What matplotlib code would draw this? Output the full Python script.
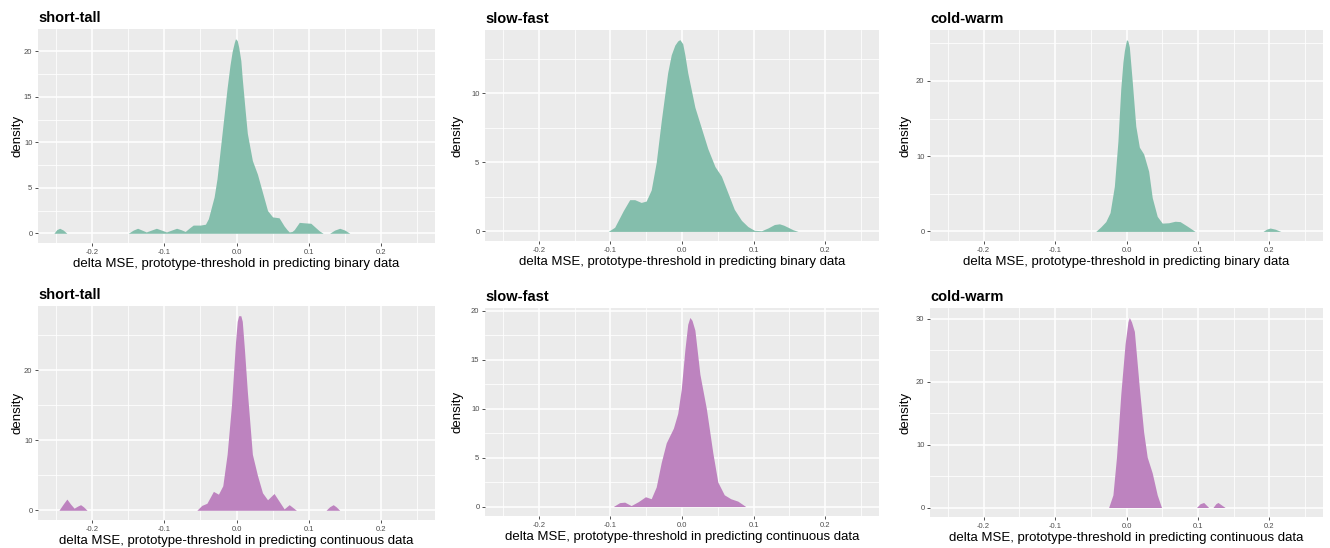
import numpy as np
import matplotlib
matplotlib.use('Agg')
from matplotlib import pyplot as plt
from matplotlib.ticker import MultipleLocator, FixedLocator

plt.rcParams['font.family'] = ['Liberation Sans', 'DejaVu Sans']

# density curves (x = delta MSE, y = density)
st_bin_x = [-0.253, -0.249, -0.245, -0.240, -0.235, -0.150, -0.143, -0.137, -0.131, -0.125,
            -0.118, -0.111, -0.104, -0.097, -0.090, -0.083, -0.077, -0.071,
            -0.065, -0.060, -0.050, -0.043, -0.039, -0.036, -0.031, -0.027, -0.020, -0.013,
            -0.009, -0.006, -0.003, -0.0014, 0.001, 0.003, 0.006,
            0.008, 0.012, 0.015, 0.022, 0.029, 0.036, 0.043, 0.050, 0.059, 0.066, 0.070, 0.073,
            0.077, 0.080, 0.087, 0.094, 0.103, 0.110, 0.115, 0.120, 0.129, 0.136, 0.143, 0.150, 0.157]
st_bin_y = [0.0, 0.4, 0.55, 0.35, 0.0, 0.0, 0.35, 0.55, 0.35, 0.15,
            0.35, 0.55, 0.35, 0.15, 0.35, 0.55, 0.4, 0.2,
            0.6, 0.9, 0.9, 1.0, 1.6, 2.5, 4.0, 6.0, 11.0, 16.0,
            18.5, 20.0, 21.0, 21.4, 21.2, 20.5, 19.0,
            17.0, 13.5, 11.0, 8.0, 6.5, 4.5, 2.5, 1.8, 1.7, 0.8, 0.4, 0.15,
            0.2, 0.4, 1.2, 1.15, 1.1, 0.6, 0.25, 0.0, 0.0, 0.35, 0.55, 0.35, 0.0]

sf_bin_x = [-0.103, -0.094, -0.082, -0.073, -0.066, -0.057, -0.050, -0.043, -0.036, -0.029,
            -0.020, -0.015, -0.010, -0.006, -0.003, 0.001, 0.004, 0.008, 0.018, 0.027, 0.036, 0.046, 0.055,
            0.064, 0.073, 0.083, 0.092, 0.101, 0.111, 0.120, 0.129, 0.136, 0.142, 0.148, 0.155, 0.162]
sf_bin_y = [0.0, 0.3, 1.5, 2.3, 2.3, 2.1, 2.2, 3.0, 5.0, 8.0,
            11.5, 12.8, 13.5, 13.8, 13.9, 13.6, 12.8, 11.5, 9.0, 7.5, 6.0, 4.7, 4.0,
            2.8, 1.6, 0.8, 0.35, 0.08, 0.05, 0.25, 0.5, 0.55, 0.45, 0.3, 0.12, 0.0]

cw_bin_x = [-0.043, -0.036, -0.029, -0.023, -0.017, -0.012, -0.008, -0.005, -0.003, 0.0, 0.002,
            0.004, 0.008, 0.013, 0.018, 0.024, 0.031, 0.036, 0.043, 0.050, 0.059, 0.068,
            0.075, 0.085, 0.096, 0.191, 0.196, 0.201, 0.208, 0.216]
cw_bin_y = [0.0, 0.6, 1.3, 2.5, 6.0, 12.0, 19.0, 22.5, 24.0, 25.5, 25.3,
            24.5, 20.0, 14.0, 11.2, 10.3, 8.0, 4.5, 2.0, 1.1, 1.15, 1.35,
            1.3, 0.7, 0.0, 0.0, 0.3, 0.45, 0.3, 0.0]

st_con_x = [-0.246, -0.240, -0.235, -0.230, -0.225, -0.220, -0.216, -0.212, -0.207,
            -0.055, -0.048, -0.041, -0.032, -0.025,
            -0.019, -0.013, -0.007, -0.0014, 0.001, 0.003, 0.006, 0.008, 0.011, 0.015, 0.022, 0.029, 0.036,
            0.043, 0.048, 0.052, 0.059, 0.066, 0.073, 0.083, 0.124, 0.129, 0.134, 0.138, 0.143]
st_con_y = [0.0, 0.9, 1.6, 0.9, 0.3, 0.6, 0.8, 0.5, 0.0,
            0.0, 0.7, 1.0, 2.7, 2.3,
            3.5, 8.0, 15.0, 24.0, 27.0, 27.8, 27.8, 27.0, 23.0, 17.0, 8.0, 5.0, 2.5,
            1.5, 2.0, 2.4, 1.3, 0.2, 0.8, 0.0, 0.0, 0.5, 0.8, 0.5, 0.0]

sf_con_x = [-0.096, -0.087, -0.080, -0.071, -0.061, -0.051, -0.043, -0.036, -0.029, -0.022,
            -0.012, -0.006, -0.001, 0.004, 0.008, 0.011, 0.014, 0.018, 0.025, 0.034, 0.043, 0.050,
            0.059, 0.068, 0.078, 0.089]
sf_con_y = [0.0, 0.4, 0.45, 0.1, 0.5, 1.0, 0.8, 2.0, 4.5, 6.5,
            8.0, 9.5, 12.0, 16.0, 18.6, 19.3, 19.0, 18.0, 13.5, 10.0, 5.5, 2.5,
            1.2, 0.8, 0.55, 0.0]

cw_con_x = [-0.025, -0.019, -0.014, -0.008, -0.002, 0.002, 0.004, 0.007, 0.011, 0.018, 0.024, 0.029,
            0.036, 0.043, 0.049, 0.098, 0.103, 0.108, 0.115, 0.121, 0.125, 0.128, 0.138]
cw_con_y = [0.0, 2.0, 8.0, 18.0, 26.0, 29.5, 30.2, 29.5, 28.0, 19.0, 12.0, 8.0,
            5.5, 2.0, 0.0, 0.0, 0.6, 0.8, 0.0, 0.0, 0.6, 0.8, 0.0]

titles = ['short-tall', 'slow-fast', 'cold-warm']
xlab_bin = 'delta MSE, prototype-threshold in predicting binary data'
xlab_con = 'delta MSE, prototype-threshold in predicting continuous data'

green = '#84BEAC'
purple = '#BD83BF'

# panel boxes in pixels: left, top, right, bottom; last item = y-label offset in px
panels = [
    (st_bin_x, st_bin_y, titles[0], xlab_bin, green, 5, (38, 29, 435, 243), -21),
    (sf_bin_x, sf_bin_y, titles[1], xlab_bin, green, 5, (485, 30, 879, 241), -28),
    (cw_bin_x, cw_bin_y, titles[2], xlab_bin, green, 10, (930, 30, 1323, 241), -24),
    (st_con_x, st_con_y, titles[0], xlab_con, purple, 10, (38, 306, 435, 520), -21),
    (sf_con_x, sf_con_y, titles[1], xlab_con, purple, 5, (485, 308, 879, 516), -28),
    (cw_con_x, cw_con_y, titles[2], xlab_con, purple, 10, (930, 308, 1323, 517), -24),
]

W, H = 1330, 548
fig = plt.figure(figsize=[W / 100, H / 100], dpi=100)

for x, y, title, xlab, col, ystep, (l, t, r, b), yoff in panels:
    ax = fig.add_axes([l / W, 1 - b / H, (r - l) / W, (b - t) / H])
    ax.set_facecolor('#EBEBEB')
    ax.fill_between(x, 0, y, color=col, lw=0, zorder=3)
    ymax = max(y)
    ax.set_xlim(-0.275, 0.275)
    ax.set_ylim(-0.05 * ymax, 1.05 * ymax)
    ax.xaxis.set_major_locator(FixedLocator([-0.2, -0.1, 0.0, 0.1, 0.2]))
    ax.xaxis.set_minor_locator(FixedLocator([-0.25, -0.15, -0.05, 0.05, 0.15, 0.25]))
    ax.set_xticklabels(['-0.2', '-0.1', '0.0', '0.1', '0.2'])
    ax.yaxis.set_major_locator(MultipleLocator(ystep))
    ax.yaxis.set_minor_locator(MultipleLocator(ystep / 2))
    ax.grid(which='major', color='white', lw=1.1, zorder=1)
    ax.grid(which='minor', color='white', lw=0.55, zorder=1)
    ax.set_axisbelow(True)
    for s in ax.spines.values():
        s.set_visible(False)
    ax.tick_params(which='major', length=2.5, width=0.6, color='#333333',
                   labelsize=5.5, labelcolor='#4D4D4D', pad=1.5)
    ax.tick_params(which='minor', length=0)
    ax.set_xlabel(xlab, fontsize=9.5, labelpad=2)
    ax.set_ylabel('density', fontsize=9.5, va='center')
    ax.yaxis.set_label_coords(yoff / (r - l), 0.5)
    ax.set_title(title, loc='left', fontsize=10.5, fontweight='bold', pad=5)

fig.savefig('out.png', dpi=100)
